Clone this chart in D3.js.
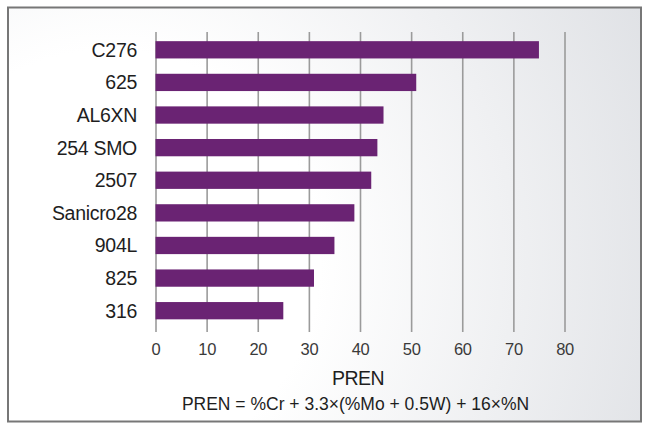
<!DOCTYPE html>
<html>
<head>
<meta charset="utf-8">
<script src="https://cdn.jsdelivr.net/npm/d3@7"></script>
<style>
  body { margin: 0; background: #fff; }
  svg { display: block; font-family: "Liberation Sans", Arial, sans-serif; }
</style>
</head>
<body>
<div id="chart"></div>
<script>
// Data (PREN values)
const alloys = ['C276', '625', 'AL6XN', '254 SMO', '2507', 'Sanicro28', '904L', '825', '316'];
const prenValues = [75, 51, 44.6, 43.4, 42.2, 38.9, 35, 31, 25];
const xTicks = [0, 10, 20, 30, 40, 50, 60, 70, 80];
const xTitle = 'PREN';
const formula = 'PREN = %Cr + 3.3×(%Mo + 0.5W) + 16×%N';

const width = 651, height = 428;

const svg = d3.select('#chart')
    .append('svg')
    .attr('width', width)
    .attr('height', height);

// Background gradient
const defs = svg.append('defs');
const grad = defs.append('radialGradient')
    .attr('id', 'bg')
    .attr('gradientUnits', 'userSpaceOnUse')
    .attr('cx', 110).attr('cy', 260).attr('r', 600);
grad.append('stop').attr('offset', '0%').attr('stop-color', '#ffffff');
grad.append('stop').attr('offset', '35%').attr('stop-color', '#ffffff');
grad.append('stop').attr('offset', '100%').attr('stop-color', '#dfe1e5');

svg.append('rect')
    .attr('x', 8).attr('y', 7.5)
    .attr('width', 633).attr('height', 414)
    .attr('fill', 'url(#bg)')
    .attr('stroke', '#777')
    .attr('stroke-width', 2);

// Scales
const x = d3.scaleLinear()
    .domain([0, 80])
    .range([155.5, 564.5]);

const y = d3.scaleBand()
    .domain(alloys)
    .range([33.5, 327])
    .paddingInner(0.47)
    .paddingOuter(0.235);

// Grid lines via the x axis
const xAxis = svg.append('g')
    .attr('transform', 'translate(0,332)')
    .call(d3.axisBottom(x).tickValues(xTicks).tickSize(-300).tickPadding(11.5).tickFormat(d3.format('d')));

xAxis.select('.domain').remove();
xAxis.selectAll('.tick line')
    .attr('stroke', '#9b9b9b')
    .attr('stroke-width', 1.6);
xAxis.selectAll('.tick text')
    .attr('fill', '#3a3a3a')
    .attr('font-size', 16.5)
    .attr('letter-spacing', -0.3)
    .attr('font-family', '"Liberation Sans", Arial, sans-serif');

// Bars
svg.append('g')
    .selectAll('rect')
    .data(alloys)
    .enter().append('rect')
    .attr('x', x(0))
    .attr('y', d => y(d))
    .attr('width', (d, i) => x(prenValues[i]) - x(0))
    .attr('height', y.bandwidth())
    .attr('fill', '#6a2373');

// Category labels
svg.append('g')
    .selectAll('text')
    .data(alloys)
    .enter().append('text')
    .attr('x', 137)
    .attr('y', d => y(d) + y.bandwidth() / 2)
    .attr('dy', '0.36em')
    .attr('text-anchor', 'end')
    .attr('font-size', 19.5)
    .attr('letter-spacing', -0.3)
    .attr('fill', '#1e1e1e')
    .text(d => d);

// Axis title
svg.append('text')
    .attr('x', 358)
    .attr('y', 385)
    .attr('text-anchor', 'middle')
    .attr('font-size', 19.5)
    .attr('letter-spacing', -0.6)
    .attr('fill', '#1e1e1e')
    .text(xTitle);

// Formula
svg.append('text')
    .attr('x', 355.5)
    .attr('y', 409.5)
    .attr('text-anchor', 'middle')
    .attr('font-size', 17.5)
    .attr('fill', '#1e1e1e')
    .text(formula);
</script>
</body>
</html>
